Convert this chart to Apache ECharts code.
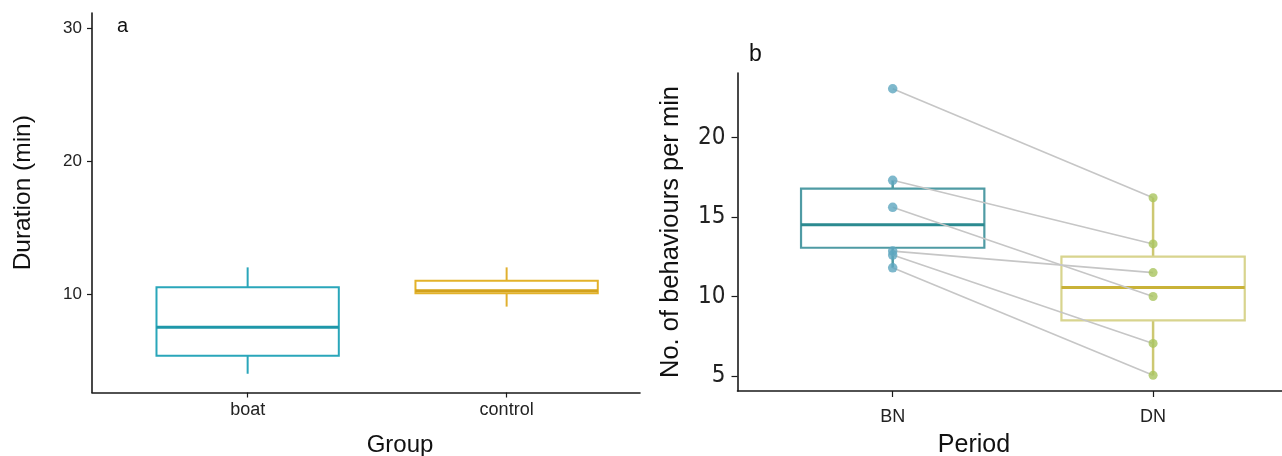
<!DOCTYPE html>
<html>
<head>
<meta charset="utf-8">
<script src="https://cdn.jsdelivr.net/npm/echarts@6/dist/echarts.min.js"></script>
<style>
  html, body { margin: 0; padding: 0; background: #fff; }
  #chart { width: 1282px; height: 456px; }
</style>
</head>
<body>
<div id="chart"></div>
<script>
// panel a: trip duration per group (boxplot stats: min, q1, median, q3, max)
var groups = ['boat', 'control'];
var groupStats = [
  [4.0, 5.35, 7.5, 10.5, 12.0],
  [9.05, 10.05, 10.25, 11.0, 12.0]
];
var durationTicks = [10, 20, 30];

// panel b: behaviours per min, paired by individual
var periods = ['BN', 'DN'];
var bnValues = [23.05, 17.3, 15.6, 12.85, 12.6, 11.8];
var dnValues = [16.2, 13.3, 10.0, 11.5, 7.05, 5.05];
var periodStats = [
  [11.8, 13.06, 14.5, 16.77, 17.3],
  [5.05, 8.5, 10.57, 12.5, 16.2]
];
var rateTicks = [5, 10, 15, 20];

var FONT = '"Liberation Sans", Arial, sans-serif';
var BOX_HALF = 0.352;

var boxColorsA = [
  { stroke: '#2aa6ba', median: '#1e97a9', whisker: '#2aa6ba' },
  { stroke: '#e3b22a', median: '#d3a21a', whisker: '#e0b030' }
];
var boxColorsB = [
  { stroke: '#4f9ba4', median: '#2b8a90', whisker: '#4f9ba4' },
  { stroke: '#d8d48e', median: '#c9b238', whisker: '#cdc872' }
];

function boxRenderer(colors, lw, medW, whW) {
  return function (params, api) {
    var x = api.value(0);
    var lo = api.value(1), q1 = api.value(2), md = api.value(3), q3 = api.value(4), hi = api.value(5);
    var c = colors[params.dataIndex];
    var tl = api.coord([x - BOX_HALF, q3]);
    var br = api.coord([x + BOX_HALF, q1]);
    var mL = api.coord([x - BOX_HALF, md]);
    var mR = api.coord([x + BOX_HALF, md]);
    var wTop = api.coord([x, hi]);
    var wHigh = api.coord([x, q3]);
    var wLow = api.coord([x, q1]);
    var wBot = api.coord([x, lo]);
    return {
      type: 'group',
      children: [
        { type: 'line', shape: { x1: wTop[0], y1: wTop[1], x2: wHigh[0], y2: wHigh[1] },
          style: { stroke: c.whisker, lineWidth: whW } },
        { type: 'line', shape: { x1: wLow[0], y1: wLow[1], x2: wBot[0], y2: wBot[1] },
          style: { stroke: c.whisker, lineWidth: whW } },
        { type: 'rect', shape: { x: tl[0], y: tl[1], width: br[0] - tl[0], height: br[1] - tl[1] },
          style: { fill: 'rgba(255,255,255,0)', stroke: c.stroke, lineWidth: lw } },
        { type: 'line', shape: { x1: mL[0], y1: mL[1], x2: mR[0], y2: mR[1] },
          style: { stroke: c.median, lineWidth: medW } }
      ]
    };
  };
}

function boxData(stats) {
  return stats.map(function (s, i) { return [i + 1].concat(s); });
}

var axisLine = { show: true, lineStyle: { color: '#1a1a1a', width: 1.6 } };

var chart = echarts.init(document.getElementById('chart'));

var series = [
  {
    type: 'custom', xAxisIndex: 0, yAxisIndex: 0,
    renderItem: boxRenderer(boxColorsA, 2, 3, 2),
    data: boxData(groupStats), z: 2, silent: true
  },
  {
    type: 'custom', xAxisIndex: 1, yAxisIndex: 1,
    renderItem: boxRenderer(boxColorsB, 2.2, 3, 2.5),
    data: boxData(periodStats), z: 2, silent: true
  }
];

bnValues.forEach(function (v, i) {
  series.push({
    type: 'line', xAxisIndex: 1, yAxisIndex: 1, z: 3, silent: true,
    symbol: 'none',
    lineStyle: { color: '#c6c6c6', width: 1.6 },
    data: [[1, v], [2, dnValues[i]]]
  });
});

series.push({
  type: 'scatter', xAxisIndex: 1, yAxisIndex: 1, z: 4, silent: true,
  symbolSize: 9.5, itemStyle: { color: '#5ea6bf' },
  data: bnValues.map(function (v) { return [1, v]; })
});
series.push({
  type: 'scatter', xAxisIndex: 1, yAxisIndex: 1, z: 4, silent: true,
  symbolSize: 9, itemStyle: { color: '#a9c45e' },
  data: dnValues.map(function (v) { return [2, v]; })
});

chart.setOption({
  animation: false,
  backgroundColor: '#fff',
  textStyle: { fontFamily: FONT },
  title: [
    { text: 'a', left: 117, top: 16, padding: 0, textStyle: { fontSize: 20, fontWeight: 'normal', color: '#111', fontFamily: FONT } },
    { text: 'b', left: 749, top: 43, padding: 0, textStyle: { fontSize: 23, fontWeight: 'normal', color: '#111', fontFamily: FONT } }
  ],
  grid: [
    { left: 92, top: 13, width: 548, height: 379.5, outerBoundsMode: 'none', containLabel: false },
    { left: 737.5, top: 73, width: 545, height: 318, outerBoundsMode: 'none', containLabel: false }
  ],
  xAxis: [
    {
      type: 'value', gridIndex: 0, min: 0.399, max: 2.515,
      name: 'Group', nameLocation: 'middle', nameGap: 41,
      nameTextStyle: { fontSize: 24, color: '#111', fontFamily: FONT, padding: [0, 0, 0, 68] },
      axisLine: axisLine,
      axisTick: { show: true, length: 5, customValues: [1, 2], lineStyle: { color: '#1a1a1a', width: 1.2 } },
      axisLabel: {
        customValues: [1, 2], margin: 9, fontSize: 18, color: '#222',
        formatter: function (v) { return groups[Math.round(v) - 1] || ''; }
      },
      splitLine: { show: false }
    },
    {
      type: 'value', gridIndex: 1, min: 0.404, max: 2.497,
      name: 'Period', nameLocation: 'middle', nameGap: 42,
      nameTextStyle: { fontSize: 25, color: '#111', fontFamily: FONT, padding: [0, 72, 0, 0] },
      axisLine: axisLine,
      axisTick: { show: true, length: 6, customValues: [1, 2], lineStyle: { color: '#1a1a1a', width: 1.2 } },
      axisLabel: {
        customValues: [1, 2], margin: 17, fontSize: 18, color: '#222',
        formatter: function (v) { return periods[Math.round(v) - 1] || ''; }
      },
      splitLine: { show: false }
    }
  ],
  yAxis: [
    {
      type: 'value', gridIndex: 0, min: 2.59, max: 31.13,
      name: 'Duration (min)', nameLocation: 'middle', nameGap: 56, nameRotate: 90,
      nameTextStyle: { fontSize: 24.5, color: '#111', fontFamily: FONT, padding: [0, 0, 0, 20] },
      axisLine: axisLine,
      axisTick: { show: true, length: 5, customValues: durationTicks, lineStyle: { color: '#1a1a1a', width: 1.2 } },
      axisLabel: { customValues: durationTicks, margin: 10, fontSize: 17, color: '#222' },
      splitLine: { show: false }
    },
    {
      type: 'value', gridIndex: 1, min: 4.06, max: 24.04,
      name: 'No. of behaviours per min', nameLocation: 'middle', nameGap: 54, nameRotate: 90,
      nameTextStyle: { fontSize: 25.5, color: '#111', fontFamily: FONT },
      axisLine: axisLine,
      axisTick: { show: true, length: 6, customValues: rateTicks, lineStyle: { color: '#1a1a1a', width: 1.2 } },
      axisLabel: {
        customValues: rateTicks, margin: 12, fontSize: 24, color: '#222',
        fontFamily: '"Liberation Sans Narrow", "DejaVu Sans Condensed", Roboto, sans-serif'
      },
      splitLine: { show: false }
    }
  ],
  series: series
});
</script>
</body>
</html>
